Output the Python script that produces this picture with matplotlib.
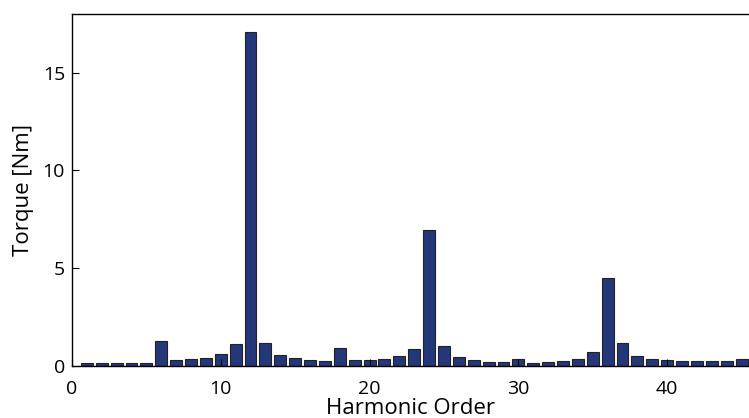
import matplotlib
matplotlib.use("Agg")
import matplotlib.pyplot as plt

# Torque per harmonic order
orders = list(range(1, 46))
torque = [0.16, 0.16, 0.16, 0.16, 0.16, 1.28, 0.33, 0.36, 0.43, 0.61,
          1.11, 17.1, 1.19, 0.58, 0.39, 0.29, 0.26, 0.92, 0.33, 0.33,
          0.38, 0.49, 0.85, 6.94, 1.00, 0.44, 0.29, 0.22, 0.19, 0.34,
          0.14, 0.19, 0.26, 0.38, 0.71, 4.49, 1.16, 0.53, 0.36, 0.29,
          0.26, 0.27, 0.24, 0.26, 0.34]
xticks = [0, 10, 20, 30, 40]
yticks = [0, 5, 10, 15]

plt.rcParams['font.family'] = ['Open Sans', 'DejaVu Sans']

fig = plt.figure(figsize=(7.49, 4.18), dpi=100)
ax = fig.add_axes([0.0961, 0.1244, 0.9039, 0.8421])

ax.bar(orders, torque, width=0.8, color='#243779', edgecolor='#222222', linewidth=0.8)

ax.set_xlim(0, 45.5)
ax.set_ylim(0, 18)
ax.set_xticks(xticks)
ax.set_yticks(yticks)
ax.tick_params(direction='in', length=5, width=0.8, labelsize=14,
               top=False, right=False)
ax.tick_params(axis='x', pad=10)
ax.tick_params(axis='y', pad=5)
ax.spines['right'].set_visible(False)
for s in ax.spines.values():
    s.set_linewidth(1.0)
ax.set_xlabel('Harmonic Order', fontsize=16, labelpad=0)
ax.set_ylabel('Torque [Nm]', fontsize=16, labelpad=6)

fig.savefig('out.png', dpi=100)
